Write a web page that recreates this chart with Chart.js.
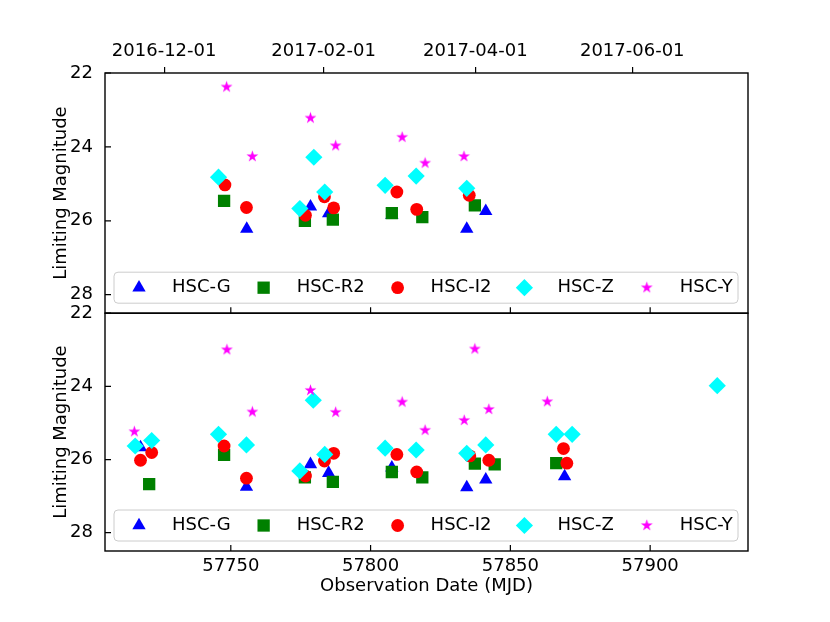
<!DOCTYPE html>
<html>
<head>
<meta charset="utf-8">
<script src="https://cdn.jsdelivr.net/npm/chart.js@4/dist/chart.umd.min.js"></script>
<style>
  body { margin: 0; background: #fff; }
  #wrap { width: 830px; height: 622px; }
</style>
</head>
<body>
<div id="wrap"><canvas id="chart" width="830" height="622"></canvas></div>
<script>
// [MJD, limiting magnitude]
const topG = [[57755.7, 26.22], [57778.5, 25.62], [57785.0, 25.80], [57807.6, 25.85], [57834.4, 26.22], [57841.2, 25.74]];
const topR2 = [[57747.6, 25.46], [57776.5, 26.0], [57786.5, 25.97], [57807.6, 25.79], [57818.5, 25.9], [57837.3, 25.58]];
const topI2 = [[57747.9, 25.03], [57755.6, 25.64], [57776.7, 25.85], [57783.5, 25.35], [57786.8, 25.65], [57809.4, 25.22], [57816.5, 25.69], [57835.3, 25.31]];
const topZ = [[57745.6, 24.82], [57774.7, 25.67], [57779.7, 24.28], [57783.6, 25.22], [57805.2, 25.04], [57816.3, 24.79], [57834.4, 25.12]];
const topY = [[57748.5, 22.38], [57757.7, 24.26], [57778.5, 23.22], [57787.5, 23.97], [57811.3, 23.74], [57819.5, 24.44], [57833.4, 24.26]];

const botG = [[57717.7, 25.67], [57755.6, 26.75], [57778.5, 26.13], [57785.0, 26.37], [57807.6, 26.22], [57834.4, 26.76], [57841.2, 26.55], [57869.4, 26.46]];
const botR2 = [[57720.8, 26.67], [57747.6, 25.87], [57776.5, 26.49], [57786.5, 26.61], [57807.6, 26.34], [57818.5, 26.49], [57837.3, 26.11], [57844.4, 26.13], [57866.4, 26.1]];
const botI2 = [[57717.7, 26.02], [57721.7, 25.81], [57747.6, 25.63], [57755.6, 26.51], [57776.7, 26.45], [57783.5, 26.04], [57786.8, 25.83], [57809.4, 25.86], [57816.5, 26.34], [57835.5, 25.9], [57842.3, 26.02], [57869.0, 25.7], [57870.2, 26.1]];
const botZ = [[57715.8, 25.63], [57721.7, 25.48], [57745.6, 25.31], [57755.6, 25.6], [57774.7, 26.31], [57779.5, 24.38], [57783.6, 25.86], [57805.2, 25.69], [57816.3, 25.74], [57834.4, 25.83], [57841.2, 25.6], [57866.4, 25.31], [57872.1, 25.31], [57924.0, 23.98]];
const botY = [[57715.5, 25.24], [57748.6, 23.0], [57757.7, 24.7], [57778.5, 24.11], [57787.5, 24.71], [57811.3, 24.43], [57819.5, 25.2], [57833.5, 24.93], [57837.3, 22.98], [57842.3, 24.63], [57863.2, 24.42]];

const filterNames = ["HSC-G", "HSC-R2", "HSC-I2", "HSC-Z", "HSC-Y"];
const mjdTicks = [57750, 57800, 57850, 57900];
const magTicks = [22, 24, 26, 28];
// top axis: calendar dates, placed by their MJD
const dateTickMjd = [57723, 57785, 57844, 57905];
const dateTickLabels = ["2016-12-01", "2017-02-01", "2017-04-01", "2017-06-01"];

const starImage = (r, color) => {
  const size = Math.ceil(r * 2 + 2);
  const c = document.createElement("canvas");
  c.width = size;
  c.height = size;
  const g = c.getContext("2d");
  g.fillStyle = color;
  g.beginPath();
  for (let i = 0; i < 10; i++) {
    const rr = i % 2 ? r * 0.382 : r;
    const a = -Math.PI / 2 + (i * Math.PI) / 5;
    g.lineTo(size / 2 + rr * Math.cos(a), size / 2 + rr * Math.sin(a));
  }
  g.closePath();
  g.fill();
  return c;
};

const styles = [
  { color: "#0000ff", pointStyle: "triangle", radius: 7.7 },
  { color: "#008000", pointStyle: "rect", radius: 8.7 },
  { color: "#ff0000", pointStyle: "circle", radius: 6.4 },
  { color: "#00ffff", pointStyle: "rectRot", radius: 8.6 },
  { color: "#ff00ff", pointStyle: starImage(6.2, "#ff00ff"), radius: 6 },
];

const makeSets = (series, yAxisID) =>
  series.map((pts, i) => ({
    label: filterNames[i],
    data: pts.map(([x, y]) => ({ x, y })),
    yAxisID,
    xAxisID: "x",
    order: 5 - i,
    showLine: false,
    backgroundColor: styles[i].color,
    borderColor: styles[i].color,
    borderWidth: 0,
    pointStyle: styles[i].pointStyle,
    pointRadius: styles[i].radius,
    pointHoverRadius: styles[i].radius,
  }));

const frameAndLegend = {
  id: "frameAndLegend",
  afterDraw(chart) {
    const ctx = chart.ctx;
    const { left, right } = chart.chartArea;
    const xs = chart.scales.x;
    ctx.save();
    [chart.scales.yTop, chart.scales.yBot].forEach((s) => {
      // inward ticks
      ctx.strokeStyle = "#000";
      ctx.lineWidth = 1.2;
      ctx.beginPath();
      s.ticks.forEach((t) => {
        const py = s.getPixelForValue(t.value);
        ctx.moveTo(left, py);
        ctx.lineTo(left + 6, py);
      });
      xs.ticks.forEach((t) => {
        const px = xs.getPixelForValue(t.value);
        ctx.moveTo(px, s.bottom);
        ctx.lineTo(px, s.bottom - 6);
      });
      ctx.stroke();
      ctx.lineWidth = 1.4;
      ctx.strokeRect(left, s.top, right - left, s.bottom - s.top);

      // legend box inside the bottom of each panel
      const bx = left + 9, bw = right - left - 19;
      const by = s.bottom - 41, bh = 31;
      ctx.beginPath();
      ctx.roundRect(bx, by, bw, bh, 4);
      ctx.fillStyle = "rgba(255,255,255,0.8)";
      ctx.fill();
      ctx.strokeStyle = "#cccccc";
      ctx.lineWidth = 1;
      ctx.stroke();

      const cy = by + bh / 2;
      let mx = bx + 25;
      ctx.font = "18px 'DejaVu Sans'";
      ctx.textBaseline = "middle";
      ctx.textAlign = "left";
      filterNames.forEach((name, i) => {
        ctx.fillStyle = styles[i].color;
        Chart.helpers.drawPoint(ctx, { pointStyle: styles[i].pointStyle, radius: styles[i].radius, rotation: 0, borderWidth: 0 }, mx, cy);
        ctx.fillStyle = "#000";
        const tx = mx + 33;
        ctx.fillText(name, tx, cy);
        mx = tx + ctx.measureText(name).width + 33;
      });
    });
    ctx.restore();
  },
};

Chart.defaults.font.family = "'DejaVu Sans'";
Chart.defaults.font.size = 18;
Chart.defaults.color = "#000";

const magAxis = (weight) => ({
  type: "linear",
  position: "left",
  stack: "panels",
  stackWeight: weight,
  reverse: true,
  min: 22,
  max: 28.5,
  grid: { display: false, drawTicks: false },
  border: { display: false },
  ticks: { padding: 12, includeBounds: false, callback: (v) => String(v) },
  afterBuildTicks: (s) => { s.ticks = magTicks.map((v) => ({ value: v })); },
  afterFit: (s) => { s.width = 105; },
  title: { display: true, text: "Limiting Magnitude", padding: { top: 51, bottom: 0 } },
});

new Chart(document.getElementById("chart"), {
  type: "scatter",
  data: {
    datasets: [
      ...makeSets([topG, topR2, topI2, topZ, topY], "yTop"),
      ...makeSets([botG, botR2, botI2, botZ, botY], "yBot"),
    ],
  },
  options: {
    responsive: false,
    animation: false,
    events: [],
    layout: { padding: { left: 0, top: 0, right: 82, bottom: 0 } },
    plugins: { legend: { display: false }, tooltip: { enabled: false } },
    scales: {
      // the stack is filled from the bottom, so the lower panel comes first
      yBot: magAxis(1),
      yTop: magAxis(1.01),
      x: {
        type: "linear",
        position: "bottom",
        min: 57705,
        max: 57935,
        grid: { display: false, drawTicks: false },
        border: { display: false },
        ticks: { padding: 5, maxRotation: 0, callback: (v) => String(v) },
        afterBuildTicks: (s) => { s.ticks = mjdTicks.map((v) => ({ value: v })); },
        afterFit: (s) => { s.height = 71; },
        title: { display: true, text: "Observation Date (MJD)", padding: { top: 0, bottom: 25 } },
      },
      x2: {
        type: "linear",
        position: "top",
        min: 57700,
        max: 57950,
        grid: { display: true, drawOnChartArea: false, drawTicks: true, tickLength: 6, color: "#000", lineWidth: 1.2 },
        border: { display: false },
        ticks: {
          padding: 5,
          maxRotation: 0,
          callback: (v) => dateTickLabels[dateTickMjd.indexOf(v)],
        },
        afterBuildTicks: (s) => { s.ticks = dateTickMjd.map((v) => ({ value: v })); },
        afterFit: (s) => { s.height = 73; },
      },
    },
  },
  plugins: [frameAndLegend],
});
</script>
</body>
</html>
